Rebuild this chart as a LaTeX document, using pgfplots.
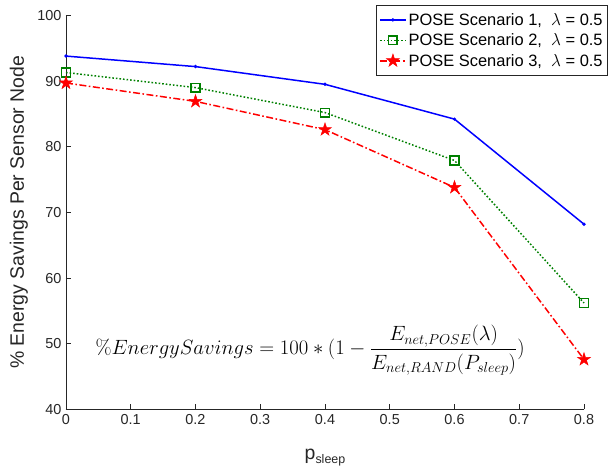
\documentclass[border=0pt]{standalone}
\usepackage[no-math]{fontspec}
\setmainfont{Liberation Sans}
\usepackage{amsmath}
\usepackage{pgfplots}
\pgfplotsset{compat=1.18}
\definecolor{mblue}{RGB}{0,0,255}
\definecolor{mgreen}{RGB}{0,128,0}
\definecolor{mred}{RGB}{255,0,0}
\definecolor{axgray}{RGB}{38,38,38}
\pgfdeclareplotmark{pentagram}{%
  \pgfpathmoveto{\pgfqpointpolar{90}{\pgfplotmarksize}}%
  \pgfpathlineto{\pgfqpointpolar{126}{0.382\pgfplotmarksize}}%
  \pgfpathlineto{\pgfqpointpolar{162}{\pgfplotmarksize}}%
  \pgfpathlineto{\pgfqpointpolar{198}{0.382\pgfplotmarksize}}%
  \pgfpathlineto{\pgfqpointpolar{234}{\pgfplotmarksize}}%
  \pgfpathlineto{\pgfqpointpolar{270}{0.382\pgfplotmarksize}}%
  \pgfpathlineto{\pgfqpointpolar{306}{\pgfplotmarksize}}%
  \pgfpathlineto{\pgfqpointpolar{342}{0.382\pgfplotmarksize}}%
  \pgfpathlineto{\pgfqpointpolar{18}{\pgfplotmarksize}}%
  \pgfpathlineto{\pgfqpointpolar{54}{0.382\pgfplotmarksize}}%
  \pgfpathclose
  \pgfusepathqfillstroke
}
\begin{document}
\begin{tikzpicture}
\begin{axis}[
  scale only axis,
  width=518bp, height=394bp,
  xmin=0, xmax=0.8, ymin=40, ymax=100,
  xtick={0,0.1,...,0.8},
  xticklabels={0,0.1,0.2,0.3,0.4,0.5,0.6,0.7,0.8},
  ytick={40,50,...,100},
  axis x line=bottom, axis y line=left,
  axis line style={-, draw=axgray, line width=0.7pt},
  tick align=inside,
  major tick length=5bp,
  tick style={draw=axgray, line width=0.7pt},
  clip=false,
  /pgf/number format/assume math mode=true,
  tick label style={font=\fontsize{14.5}{16}\selectfont, text=axgray},
  xticklabel style={yshift=-2bp},
  yticklabel style={xshift=-1bp},
  xlabel={p\raisebox{-0.35ex}{\fontsize{12.5}{14}\selectfont sleep}},
  ylabel={\% Energy Savings Per Sensor Node},
  xlabel style={font=\fontsize{19.5}{22}\selectfont, text=axgray, at={(axis description cs:0.5,-0.123)}, anchor=center},
  ylabel style={font=\fontsize{19.5}{22}\selectfont, text=axgray, at={(axis description cs:-0.091,0.5)}, anchor=center},
  legend image code/.code={\draw[mark repeat=2,mark phase=2,#1] plot coordinates {(0bp,0bp)(13bp,0bp)(26bp,0bp)};},
  legend style={at={(1.0463,1.0267)}, anchor=north east, draw=axgray, line width=0.7pt,
    font=\fontsize{16.5}{19}\selectfont, inner xsep=3bp, inner ysep=6bp, row sep=3bp, cells={anchor=west}},
  legend cell align=left,
]
\addplot[mblue, line width=1.5pt, mark=*, mark size=0.8pt] coordinates {
 (0,93.8) (0.2,92.2) (0.4,89.5) (0.6,84.2) (0.8,68.2)};
\addlegendentry{POSE Scenario 1,\ \ {\fontfamily{lmr}\selectfont$\lambda$} = 0.5}
\addplot[mgreen, line width=1.5pt, dash pattern=on 1.6pt off 2pt, mark=square, mark size=4.3pt, mark options={solid, line width=1.5pt}] coordinates {
 (0,91.3) (0.2,89.0) (0.4,85.2) (0.6,77.9) (0.8,56.2)};
\addlegendentry{POSE Scenario 2,\ \ {\fontfamily{lmr}\selectfont$\lambda$} = 0.5}
\addplot[mred, line width=1.5pt, dash pattern=on 7pt off 2.5pt on 1.6pt off 2.5pt, mark=pentagram, mark size=6.8pt, mark options={solid, fill=mred, line width=0.5pt}] coordinates {
 (0,89.7) (0.2,86.9) (0.4,82.6) (0.6,73.8) (0.8,47.6)};
\addlegendentry{POSE Scenario 3,\ \ {\fontfamily{lmr}\selectfont$\lambda$} = 0.5}
\node[font=\fontsize{20}{23}\selectfont] at (axis cs:0.377,49.0) {$\%EnergySavings = 100*(1-\dfrac{E_{net,POSE}(\lambda)}{E_{net,RAND}(P_{sleep})})$};
\coordinate (bbsw) at (rel axis cs:-0.1274,-0.1536);
\coordinate (bbne) at (rel axis cs:1.0502,1.039);
\end{axis}
\pgfresetboundingbox
\path[use as bounding box] (bbsw) rectangle (bbne);
\end{tikzpicture}
\end{document}
